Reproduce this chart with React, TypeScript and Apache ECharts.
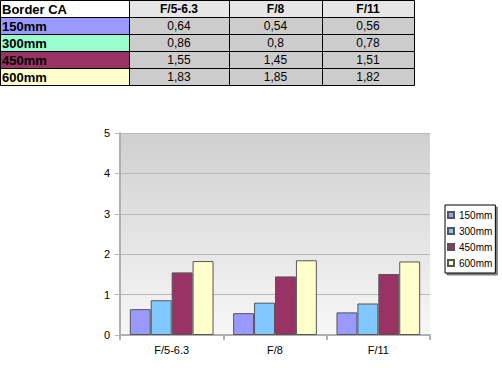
import React, { useEffect, useRef } from "react";
import * as echarts from "echarts";

const categories = ["F/5-6.3", "F/8", "F/11"];
const seriesNames = ["150mm", "300mm", "450mm", "600mm"];
const values150 = [0.64, 0.54, 0.56];
const values300 = [0.86, 0.8, 0.78];
const values450 = [1.55, 1.45, 1.51];
const values600 = [1.83, 1.85, 1.82];
const tableTitle = "Border CA";

const seriesValues = [values150, values300, values450, values600];
const barColors = ["#9999ff", "#80c8ff", "#993366", "#ffffcc"];
const rowColors = ["#9999ff", "#99ffcc", "#993366", "#ffffcc"];

const colX = [0, 129, 229, 322, 414];
const rowY = [0, 17, 34, 51, 68, 85];
const FONT = "'Liberation Sans', Arial, sans-serif";

function buildTable() {
  const els: any[] = [];
  for (let c = 0; c < 4; c++) {
    els.push({
      type: "rect",
      shape: { x: colX[c] + 0.5, y: rowY[0] + 0.5, width: colX[c + 1] - colX[c], height: rowY[1] - rowY[0] },
      style: { fill: c === 0 ? "#ffffff" : "#e6e6e6", stroke: "#000", lineWidth: 1 },
    });
  }
  els.push({
    type: "text",
    x: 2, y: rowY[0] + 9,
    style: { text: tableTitle, font: `bold 13px ${FONT}`, fill: "#000", verticalAlign: "middle" },
  });
  categories.forEach((cat, c) => {
    els.push({
      type: "text",
      x: (colX[c + 1] + colX[c + 2]) / 2, y: rowY[0] + 9,
      style: { text: cat, font: `bold 12px ${FONT}`, fill: "#000", align: "center", verticalAlign: "middle" },
    });
  });
  seriesNames.forEach((name, r) => {
    const y0 = rowY[r + 1];
    const h = rowY[r + 2] - y0;
    els.push({
      type: "rect",
      shape: { x: colX[0] + 0.5, y: y0 + 0.5, width: colX[1] - colX[0], height: h },
      style: { fill: rowColors[r], stroke: "#000", lineWidth: 1 },
    });
    els.push({
      type: "text",
      x: 2, y: y0 + 9,
      style: { text: name, font: `bold 13px ${FONT}`, fill: "#000", verticalAlign: "middle" },
    });
    seriesValues[r].forEach((v, c) => {
      els.push({
        type: "rect",
        shape: { x: colX[c + 1] + 0.5, y: y0 + 0.5, width: colX[c + 2] - colX[c + 1], height: h },
        style: { fill: "#cccccc", stroke: "#000", lineWidth: 1 },
      });
      els.push({
        type: "text",
        x: (colX[c + 1] + colX[c + 2]) / 2, y: y0 + 9,
        style: { text: String(v).replace(".", ","), font: `12px ${FONT}`, fill: "#000", align: "center", verticalAlign: "middle" },
      });
    });
  });
  return els;
}

export default function App() {
  const ref = useRef<HTMLDivElement>(null);
  useEffect(() => {
    if (!ref.current) return;
    const chart = echarts.init(ref.current, null, { renderer: "svg" });
    chart.setOption({
      animation: false,
      backgroundColor: "#ffffff",
      textStyle: { fontFamily: FONT },
      grid: {
        left: 120, top: 133, width: 310, height: 202,
        show: true,
        borderWidth: 0,
        backgroundColor: new echarts.graphic.LinearGradient(0, 0, 0, 1, [
          { offset: 0, color: "#d0d0d0" },
          { offset: 1, color: "#f7f7f7" },
        ]),
      },
      legend: {
        orient: "vertical",
        left: 445, top: 205,
        data: seriesNames,
        icon: "rect",
        itemWidth: 6, itemHeight: 6, itemGap: 4,
        padding: [4, 3, 4, 2],
        borderColor: "#000", borderWidth: 1,
        backgroundColor: "#fff",
        shadowColor: "rgba(0,0,0,0.5)", shadowOffsetX: 2, shadowOffsetY: 2, shadowBlur: 0,
        textStyle: { fontSize: 10, color: "#000", fontFamily: FONT, lineHeight: 12 },
      },
      xAxis: {
        type: "category",
        data: categories,
        axisLine: { lineStyle: { color: "#b0b0b0", width: 2 } },
        axisTick: { show: true, length: 5, lineStyle: { color: "#b0b0b0", width: 2 } },
        axisLabel: { color: "#000", fontSize: 11, margin: 9, fontFamily: FONT },
      },
      yAxis: {
        type: "value",
        min: 0, max: 5, interval: 1,
        axisLine: { show: true, lineStyle: { color: "#b0b0b0", width: 2 } },
        axisTick: { show: true, length: 5, lineStyle: { color: "#b8b8b8", width: 1 } },
        axisLabel: { color: "#000", fontSize: 11, margin: 10, fontFamily: FONT },
        splitLine: { show: true, lineStyle: { color: "#b8b8b8", width: 1 } },
      },
      series: seriesNames.map((name, i) => ({
        name,
        type: "bar",
        data: seriesValues[i],
        barGap: "0%",
        barCategoryGap: "19%",
        itemStyle: { color: barColors[i], borderColor: "#555555", borderWidth: 1 },
      })),
      graphic: buildTable(),
    });
    return () => chart.dispose();
  }, []);
  return (
    <div
      ref={ref}
      style={{ position: "fixed", left: 0, top: 0, width: 502, height: 368 }}
    />
  );
}
